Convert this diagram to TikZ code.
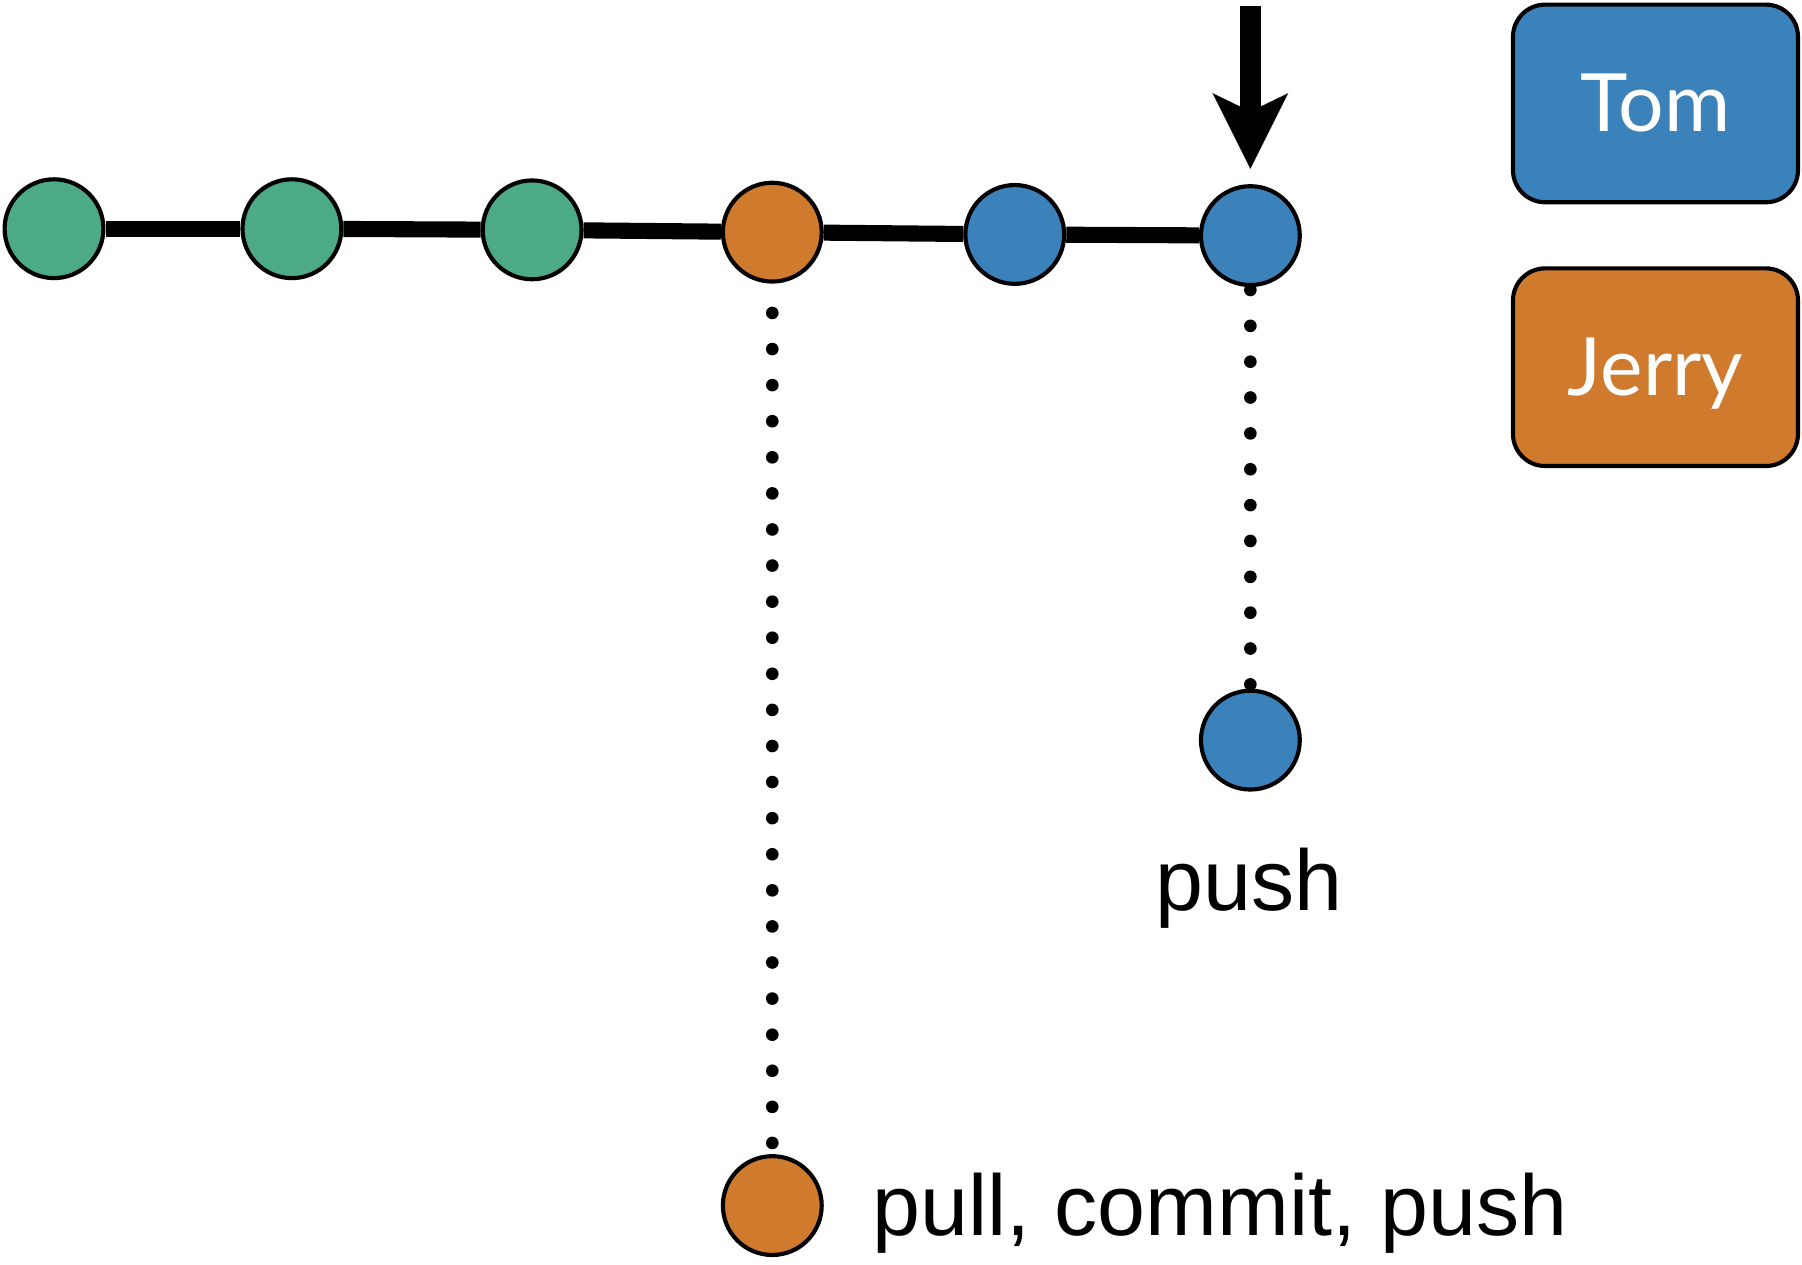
\documentclass[tikz,border=0pt]{standalone}
\usepackage{fontspec}
\setmainfont{Liberation Sans}
\newfontfamily\namefont{Lato}
\definecolor{cgreen}{RGB}{76,170,135}
\definecolor{corange}{RGB}{208,122,46}
\definecolor{cblue}{RGB}{59,130,187}
\begin{document}
\begin{tikzpicture}[x=0.5pt,y=-0.5pt,
  commit/.style={circle,draw=black,line width=1.8pt,minimum size=43pt,inner sep=0pt},
  gc/.style={commit,fill=cgreen},
  oc/.style={commit,fill=corange},
  bc/.style={commit,fill=cblue},
  mainline/.style={line width=7pt},
  dotline/.style={line width=5.5pt,line cap=round,dash pattern=on 0pt off #1},
  person/.style={draw=black,line width=1.8pt,rounded corners=14pt,minimum width=124pt,
    minimum height=86pt,inner sep=0pt,text height=31.5pt,text depth=7pt,text=white,
    font=\namefont\fontsize{35}{40}\selectfont},
  lbl/.style={inner sep=0pt,font=\fontsize{37.5}{44}\selectfont},
  shaft/.style={line width=9pt}]
\useasboundingbox (0,0) rectangle (1568,1100);
% commits
\node[gc] (n1) at (47,199) {};
\node[gc] (n2) at (254,199) {};
\node[gc] (n3) at (463,200) {};
\node[oc] (n4) at (672,202) {};
\node[bc] (n5) at (883,204) {};
\node[bc] (n6) at (1088,205) {};
\node[bc] (n7) at (1088,644) {};
\node[oc] (n8) at (672,1049) {};
% main history line
\draw[mainline] (n1) -- (n2);
\draw[mainline] (n2) -- (n3);
\draw[mainline] (n3) -- (n4);
\draw[mainline] (n4) -- (n5);
\draw[mainline] (n5) -- (n6);
% dotted links
\draw[dotline=15.7pt,shorten <=12.75pt,shorten >=4.75pt] (n4) -- (n8);
\draw[dotline=15.6pt,shorten <=1.25pt,shorten >=1.25pt] (n6) -- (n7);
% arrow
\coordinate (atop) at (1088,5);
\coordinate (anotch) at (1088,97);
\coordinate (atip) at (1088,147);
\coordinate (aleft) at (1055,81);
\coordinate (aright) at (1121,81);
\draw[shaft] (atop) -- (1088,100);
\fill (aleft) -- (atip) -- (aright) -- (anotch) -- cycle;
% labels
\node[lbl,anchor=base] (lpush) at (1087,792) {push};
\node[lbl,anchor=base west] (lpcp) at (759,1075) {pull, commit, push};
% legend
\node[person,fill=cblue] (tom) at (1440.5,90) {Tom};
\node[person,fill=corange] (jerry) at (1440.5,319.5) {Jerry};
\end{tikzpicture}
\end{document}
